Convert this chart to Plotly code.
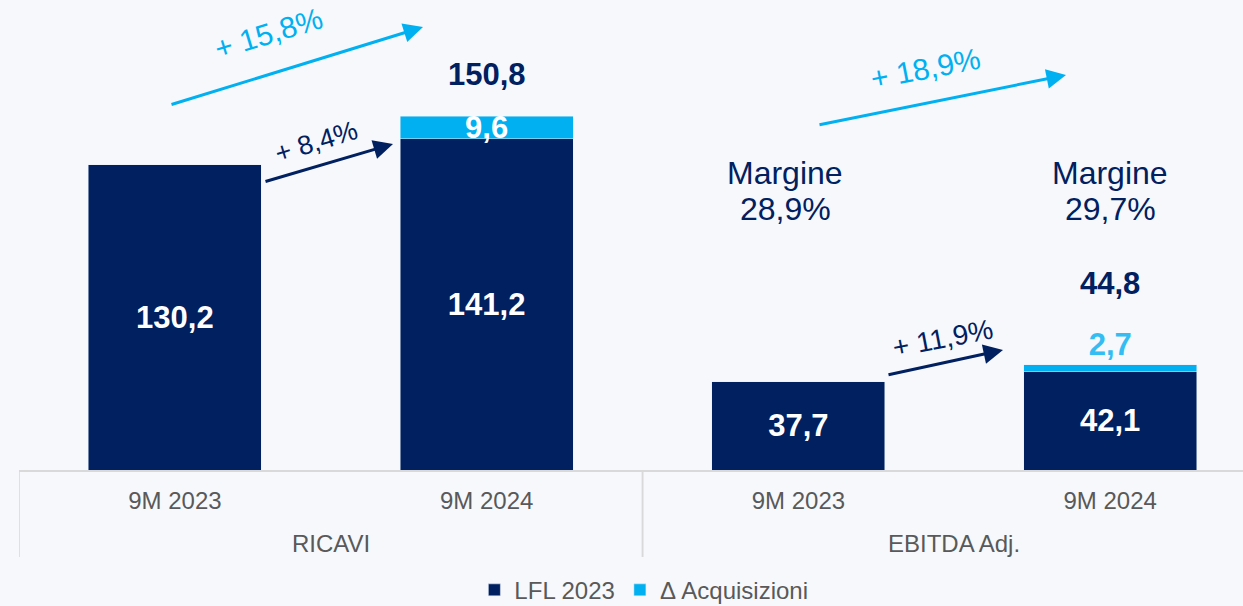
import plotly.graph_objects as go

# ---- data ----
groups = ["RICAVI", "RICAVI", "EBITDA Adj.", "EBITDA Adj."]
periods = ["9M 2023", "9M 2024", "9M 2023", "9M 2024"]
lfl_values = [130.2, 141.2, 37.7, 42.1]
acq_values = [None, 9.6, None, 2.7]
totals = [None, 150.8, None, 44.8]
margin_label = "Margine"
margins = ["28,9%", "29,7%"]
growth_total = ["+ 15,8%", "+ 18,9%"]
growth_lfl = ["+ 8,4%", "+ 11,9%"]

NAVY = "#002060"
CYAN = "#00B0F0"
CYAN_TXT = "#33BDF2"
GREY = "#595959"
LINE = "#D9D9D9"
FONT = "Liberation Sans, Arial, sans-serif"

def fmt(v):
    return f"{v:.1f}".replace(".", ",")

xpos = list(range(len(periods)))

fig = go.Figure()
fig.add_trace(go.Bar(
    x=xpos, y=lfl_values, name="LFL 2023", marker_color=NAVY,
    text=[fmt(v) for v in lfl_values], textposition="inside",
    insidetextanchor="middle", constraintext="none",
    textfont=dict(family=FONT, size=31, color="white", weight="bold"),
))
fig.add_trace(go.Bar(
    x=xpos, y=acq_values, name="Δ Acquisizioni", marker_color=CYAN,
    text=[fmt(v) if v is not None else "" for v in acq_values],
    textposition=["none", "inside", "none", "outside"],
    insidetextanchor="middle", constraintext="none", cliponaxis=False,
    insidetextfont=dict(family=FONT, size=31, color="white", weight="bold"),
    outsidetextfont=dict(family=FONT, size=31, color=CYAN_TXT, weight="bold"),
))

# px -> data helpers (layout constants)
L, W, BASE, PXU = 19, 1224, 470, 2.345
X0, X1 = -0.5, 3.426
def dx(px):
    return X0 + (px - L) / W * (X1 - X0)
def dy(py):
    return (BASE - py) / PXU
def py_paper(py):
    return (BASE - py) / BASE

ann = []
shapes = []
# group labels and dividers (from the groups list)
uniq = []
for g in groups:
    if g not in uniq:
        uniq.append(g)
for g in uniq:
    idx = [i for i, gg in enumerate(groups) if gg == g]
    ann.append(dict(x=sum(idx) / len(idx), y=py_paper(543), xref="x", yref="paper",
                    text=g, showarrow=False, yanchor="middle",
                    font=dict(family=FONT, size=24, color=GREY)))
    for edge in (min(idx) - 0.5, max(idx) + 0.5):
        shapes.append(dict(type="line", xref="x", yref="paper", x0=edge, x1=edge,
                           y0=0, y1=py_paper(557), line=dict(color=LINE, width=1.5)))

# totals
for i, (t, ys) in enumerate(zip(totals, [None, 42, None, 81])):
    if t is not None:
        ann.append(dict(x=i, y=t, xref="x", yref="y", text=f"<b>{fmt(t)}</b>",
                        showarrow=False, yshift=ys,
                        font=dict(family=FONT, size=31, color=NAVY)))
# margins
for pxc, m in zip([785, 1110], margins):
    ann.append(dict(x=dx(pxc), y=dy(173), xref="x", yref="y", text=margin_label,
                    showarrow=False, font=dict(family=FONT, size=32, color=NAVY)))
    ann.append(dict(x=dx(pxc), y=dy(209), xref="x", yref="y", text=m,
                    showarrow=False, font=dict(family=FONT, size=32, color=NAVY)))

# arrows: (head_px, tail_offset, color)
arrows = [((423, 27), (-253, 78), CYAN, 3),
          ((393, 144), (-129, 38), NAVY, 3),
          ((1066, 75), (-248, 50), CYAN, 3),
          ((1003, 350), (-116, 25), NAVY, 3)]
for (hx, hy), (axo, ayo), c, w in arrows:
    ann.append(dict(x=dx(hx), y=dy(hy), xref="x", yref="y", text="",
                    showarrow=True, ax=axo, ay=ayo, axref="pixel", ayref="pixel",
                    arrowhead=2, arrowsize=1.3, arrowwidth=w, arrowcolor=c))
# growth labels
labels = [(growth_total[0], (268, 33), -17, CYAN, 30),
          (growth_lfl[0], (316, 142), -17, NAVY, 27),
          (growth_total[1], (925, 68), -11, CYAN, 30),
          (growth_lfl[1], (942, 338), -11, NAVY, 28)]
for t, (px, py), ang, c, s in labels:
    ann.append(dict(x=dx(px), y=dy(py), xref="x", yref="y", text=t, showarrow=False,
                    textangle=ang, font=dict(family=FONT, size=s, color=c)))

fig.update_layout(
    width=1243, height=606,
    barmode="stack", bargap=0.445,
    paper_bgcolor="#F6F8FC", plot_bgcolor="#F6F8FC",
    margin=dict(l=L, r=0, t=0, b=606 - BASE),
    font=dict(family=FONT, color=GREY),
    showlegend=True,
    legend=dict(orientation="h", xref="container", yref="container",
                x=0.518, y=0.026, xanchor="center", yanchor="middle",
                font=dict(family=FONT, size=24, color=GREY),
                bgcolor="rgba(0,0,0,0)", itemwidth=30, traceorder="normal"),
    annotations=ann,
    shapes=shapes,
    xaxis=dict(range=[X0, X1], showline=True, linecolor=LINE, linewidth=1.5,
               tickmode="array", tickvals=xpos, ticktext=periods,
               showgrid=False, zeroline=False, ticks="", ticklabelstandoff=8,
               tickfont=dict(family=FONT, size=24, color=GREY)),
    yaxis=dict(range=[0, BASE / PXU], visible=False, showgrid=False, zeroline=False),
)

fig.write_html("out.html", post_script="document.body.style.margin='0';",
               config={"displayModeBar": False})
